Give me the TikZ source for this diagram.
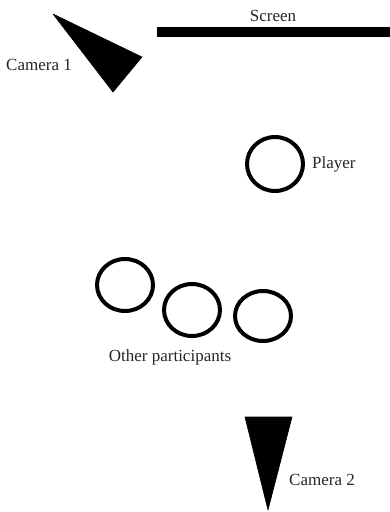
\documentclass[tikz,border=0pt]{standalone}
\usepackage{fontspec}
\setmainfont{Liberation Serif}
\begin{document}
\begin{tikzpicture}[x=1pt,y=-1pt,
  lbl/.style={font=\fontsize{17}{20}\selectfont, text=black!85, inner sep=0pt},
  person/.style={draw=black, line width=4pt},
  cam/.style={fill=black, draw=black, line width=0.6pt, line join=round}]
\useasboundingbox (0,0) rectangle (390,512);
% screen
\fill (157,27) rectangle (390,37);
\node[lbl] (screen) at (273,16) {Screen};
% camera 1
\filldraw[cam] (53,14) -- (142,57) -- (113,92) -- cycle;
\node[lbl, anchor=west] (cam1) at (6,65) {Camera 1};
% player
\draw[person] (275,164) ellipse (28 and 27);
\node[lbl, anchor=west] (player) at (312,164) {Player};
% participants
\draw[person] (125,285) ellipse (28 and 26);
\draw[person] (192,310) ellipse (28 and 26);
\draw[person] (263,316) ellipse (28 and 25);
\node[lbl] (others) at (170,357) {Other participants};
% camera 2
\filldraw[cam] (245,417) -- (292,417) -- (268,510) -- cycle;
\node[lbl, anchor=west] (cam2) at (289,480) {Camera 2};
\end{tikzpicture}
\end{document}
